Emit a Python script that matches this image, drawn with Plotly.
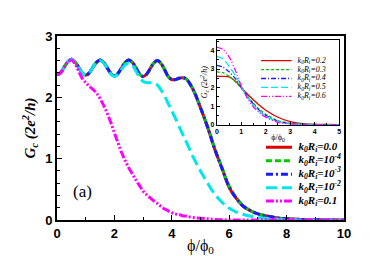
import plotly.graph_objects as go

# ---------------- data ----------------
phi = [0, 0.125, 0.25, 0.375, 0.5, 0.625, 0.75, 0.875,
       1.0, 1.125, 1.25, 1.375, 1.5, 1.625, 1.75, 1.875,
       2.0, 2.125, 2.25, 2.375, 2.5, 2.625, 2.75, 2.875,
       3.0, 3.125, 3.25, 3.375, 3.5, 3.625, 3.75, 3.875,
       4.0, 4.125, 4.25, 4.375, 4.5,
       4.75, 5.0, 5.25, 5.5, 5.75, 6.0, 6.25, 6.5, 6.75, 7.0, 7.25, 7.5, 7.75, 8.0,
       8.5, 9.0, 9.5, 10.0]

g_00 = [2.37, 2.40, 2.49, 2.58, 2.62, 2.58, 2.49, 2.40,
        2.36, 2.40, 2.49, 2.57, 2.61, 2.57, 2.48, 2.39,
        2.35, 2.39, 2.48, 2.57, 2.61, 2.57, 2.48, 2.38,
        2.34, 2.38, 2.47, 2.56, 2.60, 2.55, 2.45, 2.34,
        2.29, 2.29, 2.31, 2.32, 2.30,
        2.12, 1.83, 1.51, 1.15, 0.84, 0.53, 0.35, 0.22, 0.15, 0.10, 0.07, 0.05, 0.03, 0.02,
        0.01, 0.005, 0.002, 0.001]
g_1e4 = [2.37, 2.40, 2.49, 2.58, 2.62, 2.58, 2.49, 2.40,
         2.36, 2.40, 2.49, 2.57, 2.61, 2.57, 2.48, 2.39,
         2.35, 2.39, 2.48, 2.57, 2.61, 2.57, 2.48, 2.38,
         2.34, 2.38, 2.47, 2.56, 2.60, 2.55, 2.45, 2.34,
         2.29, 2.29, 2.31, 2.32, 2.30,
         2.12, 1.83, 1.52, 1.16, 0.85, 0.55, 0.36, 0.23, 0.15, 0.10, 0.07, 0.05, 0.03, 0.02,
         0.01, 0.005, 0.002, 0.001]
g_1e3 = [2.37, 2.40, 2.49, 2.58, 2.62, 2.58, 2.49, 2.40,
         2.36, 2.40, 2.49, 2.57, 2.61, 2.57, 2.48, 2.39,
         2.35, 2.39, 2.48, 2.57, 2.61, 2.57, 2.48, 2.38,
         2.34, 2.38, 2.47, 2.56, 2.60, 2.55, 2.45, 2.34,
         2.29, 2.29, 2.31, 2.32, 2.30,
         2.12, 1.83, 1.51, 1.15, 0.84, 0.54, 0.35, 0.22, 0.15, 0.10, 0.07, 0.05, 0.03, 0.02,
         0.01, 0.005, 0.002, 0.001]
g_1e2 = [2.37, 2.40, 2.49, 2.58, 2.62, 2.58, 2.49, 2.40,
         2.36, 2.40, 2.49, 2.57, 2.60, 2.56, 2.47, 2.38,
         2.34, 2.38, 2.46, 2.53, 2.56, 2.52, 2.43, 2.33,
         2.26, 2.24, 2.24, 2.23, 2.20, 2.12, 2.02, 1.90,
         1.78, 1.66, 1.53, 1.40, 1.28,
         1.02, 0.80, 0.60, 0.42, 0.29, 0.19, 0.13, 0.09, 0.06, 0.04, 0.03, 0.02, 0.01, 0.005,
         0.002, 0.001, 0.0, 0.0]
g_01 = [2.37, 2.40, 2.49, 2.57, 2.61, 2.55, 2.43, 2.31,
        2.24, 2.18, 2.13, 2.07, 1.98, 1.87, 1.74, 1.59,
        1.42, 1.26, 1.10, 0.97, 0.85, 0.75, 0.65, 0.56,
        0.47, 0.41, 0.36, 0.31, 0.27, 0.22, 0.18, 0.15,
        0.12, 0.10, 0.09, 0.07, 0.06,
        0.04, 0.03, 0.02, 0.01, 0.005, 0.002, 0.001, 0.0, 0.0, 0.0, 0.0, 0.0, 0.0, 0.0,
        0.0, 0.0, 0.0, 0.0]

main_labels = ["0.0", "10<sup>-4</sup>", "10<sup>-3</sup>", "10<sup>-2</sup>", "0.1"]

phi_in = [0, 0.25, 0.5, 0.75, 1.0, 1.25, 1.5, 1.75, 2.0, 2.5, 3.0, 3.5, 4.0, 4.5, 5.0]
gi_02 = [2.60, 2.60, 2.58, 2.35, 2.00, 1.65, 1.33, 1.03, 0.78, 0.40, 0.16, 0.06, 0.02, 0.01, 0.0]
gi_03 = [2.85, 2.80, 2.60, 2.33, 1.95, 1.55, 1.15, 0.82, 0.56, 0.22, 0.08, 0.03, 0.01, 0.0, 0.0]
gi_04 = [3.20, 3.10, 2.85, 2.50, 2.02, 1.52, 1.10, 0.75, 0.50, 0.18, 0.06, 0.02, 0.01, 0.0, 0.0]
gi_05 = [3.68, 3.55, 3.15, 2.65, 2.06, 1.50, 1.05, 0.70, 0.45, 0.16, 0.05, 0.02, 0.0, 0.0, 0.0]
gi_06 = [4.18, 4.05, 3.65, 2.95, 2.10, 1.42, 0.95, 0.62, 0.40, 0.12, 0.04, 0.01, 0.0, 0.0, 0.0]

inset_labels = ["0.2", "0.3", "0.4", "0.5", "0.6"]

# ---------------- styles ----------------
colors = ["#e00000", "#00c800", "#1a1aff", "#00e5f0", "#ff00ff"]
main_dash = ["solid", "6px,3px", "7px,3px,2px,3px", "11px,5px", "8px,2px,2px,2px,2px,2px"]
inset_dash = ["solid", "3px,2px", "5px,2px,1px,2px", "7px,3px", "6px,2px,1px,2px,1px,2px"]

fig = go.Figure()

main_series = [g_00, g_1e4, g_1e3, g_1e2, g_01]
for ys, c, d in zip(main_series, colors, main_dash):
    fig.add_trace(go.Scatter(x=phi, y=ys, mode="lines", xaxis="x", yaxis="y",
                             line=dict(color=c, width=3, dash=d, shape="spline", smoothing=1.0),
                             showlegend=False, hoverinfo="skip"))

inset_series = [gi_02, gi_03, gi_04, gi_05, gi_06]
for ys, c, d in zip(inset_series, colors, inset_dash):
    fig.add_trace(go.Scatter(x=phi_in, y=ys, mode="lines", xaxis="x2", yaxis="y2",
                             line=dict(color=c, width=1.3, dash=d, shape="spline", smoothing=0.8),
                             showlegend=False, hoverinfo="skip"))

# ---- main legend (drawn on its own hidden axes) ----
for i, (lab, c, d) in enumerate(zip(main_labels, colors, main_dash)):
    fig.add_trace(go.Scatter(x=[0, 1], y=[i, i], mode="lines", xaxis="x3", yaxis="y3",
                             line=dict(color=c, width=3, dash=d), showlegend=False,
                             hoverinfo="skip", cliponaxis=False))
    fig.add_trace(go.Scatter(x=[1.25], y=[i], mode="text", xaxis="x3", yaxis="y3",
                             text=["<b><i>k<sub>0</sub>R<sub>i</sub>=" + lab + "</i></b>"],
                             textposition="middle right",
                             textfont=dict(family="Liberation Serif", size=11, color="black"),
                             showlegend=False, hoverinfo="skip", cliponaxis=False))

# ---- inset legend ----
for i, (lab, c, d) in enumerate(zip(inset_labels, colors, inset_dash)):
    fig.add_trace(go.Scatter(x=[0, 1], y=[i, i], mode="lines", xaxis="x4", yaxis="y4",
                             line=dict(color=c, width=1.3, dash=d), showlegend=False,
                             hoverinfo="skip", cliponaxis=False))
    fig.add_trace(go.Scatter(x=[1.2], y=[i], mode="text", xaxis="x4", yaxis="y4",
                             text=["<i>k<sub>0</sub>R<sub>i</sub>=" + lab + "</i>"],
                             textposition="middle right",
                             textfont=dict(family="Liberation Serif", size=8, color="black"),
                             showlegend=False, hoverinfo="skip", cliponaxis=False))

tickfont_main = dict(family="Liberation Sans", size=13, color="black", weight="bold")
tickfont_in = dict(family="Liberation Sans", size=7, color="black", weight="bold")

fig.update_layout(
    width=382, height=256,
    margin=dict(l=49, r=46, t=28, b=33),
    paper_bgcolor="white", plot_bgcolor="rgba(0,0,0,0)",
    showlegend=False,
    xaxis=dict(domain=[0, 1], range=[0, 10], dtick=2, tick0=0, ticks="inside", ticklen=5,
               tickwidth=1, tickcolor="black", showgrid=False, zeroline=False,
               showline=True, linecolor="black", linewidth=2, mirror=True,
               tickfont=tickfont_main,
               minor=dict(dtick=1, ticks="inside", ticklen=3, tickcolor="black", showgrid=False),
               title=dict(text="ϕ/ϕ<sub>0</sub>", standoff=0,
                          font=dict(family="Liberation Serif", size=16, color="black"))),
    yaxis=dict(domain=[0, 1], range=[0, 3], dtick=1, tick0=0, ticks="inside", ticklen=5,
               tickwidth=1, tickcolor="black", showgrid=False, zeroline=False,
               showline=True, linecolor="black", linewidth=2, mirror=True,
               tickfont=tickfont_main,
               minor=dict(dtick=0.2, ticks="inside", ticklen=3, tickcolor="black", showgrid=False),
               title=dict(text="<b><i>G<sub>c</sub> (2e<sup>2</sup>/h)</i></b>", standoff=6,
                          font=dict(family="Liberation Serif", size=15, color="black"))),
    xaxis2=dict(domain=[0.557, 0.983], range=[0, 5], dtick=1, anchor="y2", ticks="inside",
                ticklen=3, tickcolor="black", showgrid=False, zeroline=False,
                showline=True, linecolor="black", linewidth=1, mirror=True,
                tickfont=tickfont_in,
                minor=dict(dtick=0.5, ticks="inside", ticklen=2, tickcolor="black", showgrid=False),
                title=dict(text="ϕ/ϕ<sub>0</sub>", standoff=0,
                           font=dict(family="Liberation Serif", size=8, color="black"))),
    yaxis2=dict(domain=[0.518, 0.979], range=[0, 4.57], dtick=1, anchor="x2", ticks="inside",
                ticklen=3, tickcolor="black", showgrid=False, zeroline=False,
                showline=True, linecolor="black", linewidth=1, mirror=True,
                tickfont=tickfont_in,
                minor=dict(dtick=0.5, ticks="inside", ticklen=2, tickcolor="black", showgrid=False),
                title=dict(text="<i>G<sub>c</sub> (2e<sup>2</sup>/h)</i>", standoff=1,
                           font=dict(family="Liberation Serif", size=8, color="black"))),
    xaxis3=dict(domain=[0.728, 1.0], range=[0, 3], anchor="y3", visible=False),
    yaxis3=dict(domain=[0.067, 0.426], range=[4.49, -0.42], anchor="x3", visible=False),
    xaxis4=dict(domain=[0.711, 0.97], range=[0, 2.44], anchor="y4", visible=False),
    yaxis4=dict(domain=[0.651, 0.887], range=[4.42, -0.42], anchor="x4", visible=False),
    annotations=[dict(x=0.9, y=0.46, xref="x", yref="y", text="(a)", showarrow=False,
                      font=dict(family="Liberation Serif", size=17, color="black"))],
)

fig.write_html("out.html")
